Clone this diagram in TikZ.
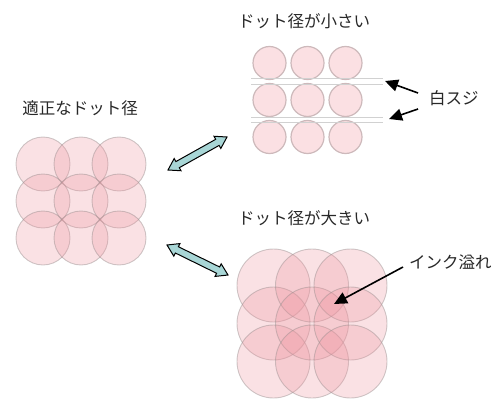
\documentclass[tikz,border=0pt]{standalone}
\usepackage{fontspec}
\setmainfont{Noto Sans CJK JP}
\usetikzlibrary{calc,arrows.meta}
\definecolor{dotpink}{RGB}{237,148,159}
\definecolor{rimgray}{RGB}{150,140,140}
\definecolor{arrowteal}{RGB}{168,214,214}
\definecolor{smallfill}{RGB}{251,224,227}
\definecolor{smallrim}{RGB}{205,185,187}
\definecolor{txt}{RGB}{40,40,40}
\tikzset{
  dot/.style={circle, inner sep=0pt, minimum size=#1, fill=dotpink, fill opacity=0.28,
    draw=rimgray, draw opacity=0.45, line width=0.9pt},
  sdot/.style={circle, inner sep=0pt, minimum size=33pt, fill=smallfill, draw=smallrim, line width=1.2pt},
  lbl/.style={font=\fontsize{16.5}{16.5}\selectfont, text=txt, inner sep=0pt},
  fatarrow/.style={draw=black, fill=arrowteal, line width=1pt, line join=miter},
  pointer/.style={-{Triangle[length=13pt,width=12pt]}, line width=1.6pt},
  gapline/.style={draw=black!18, line width=0.8pt}
}
% double-headed block arrow between two named points
\newcommand\FatDblArrow[2]{%
  \draw[fatarrow] (#1)
    -- ($(#1)!11pt!(#2)!7pt!90:(#2)$)
    -- ($(#1)!11pt!(#2)!3.5pt!90:(#2)$)
    -- ($(#2)!11pt!(#1)!3.5pt!-90:(#1)$)
    -- ($(#2)!11pt!(#1)!7pt!-90:(#1)$)
    -- (#2)
    -- ($(#2)!11pt!(#1)!7pt!90:(#1)$)
    -- ($(#2)!11pt!(#1)!3.5pt!90:(#1)$)
    -- ($(#1)!11pt!(#2)!3.5pt!-90:(#2)$)
    -- ($(#1)!11pt!(#2)!7pt!-90:(#2)$)
    -- cycle;}
\begin{document}
\begin{tikzpicture}[x=1pt,y=-1pt]
\useasboundingbox (0,0) rectangle (502,398);
% left: proper dot size
\node[lbl] (tproper) at (80,108) {適正なドット径};
\foreach \i/\x in {1/43,2/81,3/119}
  \foreach \j/\y in {1/164,2/201,3/238}
    \node[dot=54pt] (L-\i-\j) at (\x,\y) {};
% top right: small dots
\node[lbl, anchor=west] (tsmall) at (238,21) {ドット径が小さい};
\foreach \i/\x in {1/269.5,2/307.5,3/345.5}
  \foreach \j/\y in {1/63,2/100,3/137}
    \node[sdot] (S-\i-\j) at (\x,\y) {};
\coordinate (g1a) at (251,78);  \coordinate (g1b) at (383,78);
\coordinate (g2a) at (251,84);  \coordinate (g2b) at (383,84);
\coordinate (g3a) at (251,117); \coordinate (g3b) at (383,117);
\coordinate (g4a) at (251,122); \coordinate (g4b) at (383,122);
\draw[gapline] (g1a) -- (g1b);
\draw[gapline] (g2a) -- (g2b);
\draw[gapline] (g3a) -- (g3b);
\draw[gapline] (g4a) -- (g4b);
\node[lbl, anchor=west] (tstreak) at (429,98) {白スジ};
\coordinate (p1s) at (418,93);  \coordinate (p1e) at (385,81);
\coordinate (p2s) at (418,109); \coordinate (p2e) at (389,119);
\draw[pointer] (p1s) -- (p1e);
\draw[pointer] (p2s) -- (p2e);
% bottom right: large dots
\node[lbl, anchor=west] (tlarge) at (238,218) {ドット径が大きい};
\foreach \i/\x in {1/273.5,2/312,3/350.5}
  \foreach \j/\y in {1/285.5,2/323.5,3/361.5}
    \node[dot=73pt] (B-\i-\j) at (\x,\y) {};
\node[lbl, anchor=west] (tink) at (409,262) {インク溢れ};
\coordinate (p3s) at (403,267); \coordinate (p3e) at (334,304);
\draw[pointer] (p3s) -- (p3e);
% double arrows
\coordinate (a1s) at (168,170); \coordinate (a1e) at (227,137);
\coordinate (a2s) at (167,245); \coordinate (a2e) at (228,275);
\FatDblArrow{a1s}{a1e}
\FatDblArrow{a2s}{a2e}
\end{tikzpicture}
\end{document}
